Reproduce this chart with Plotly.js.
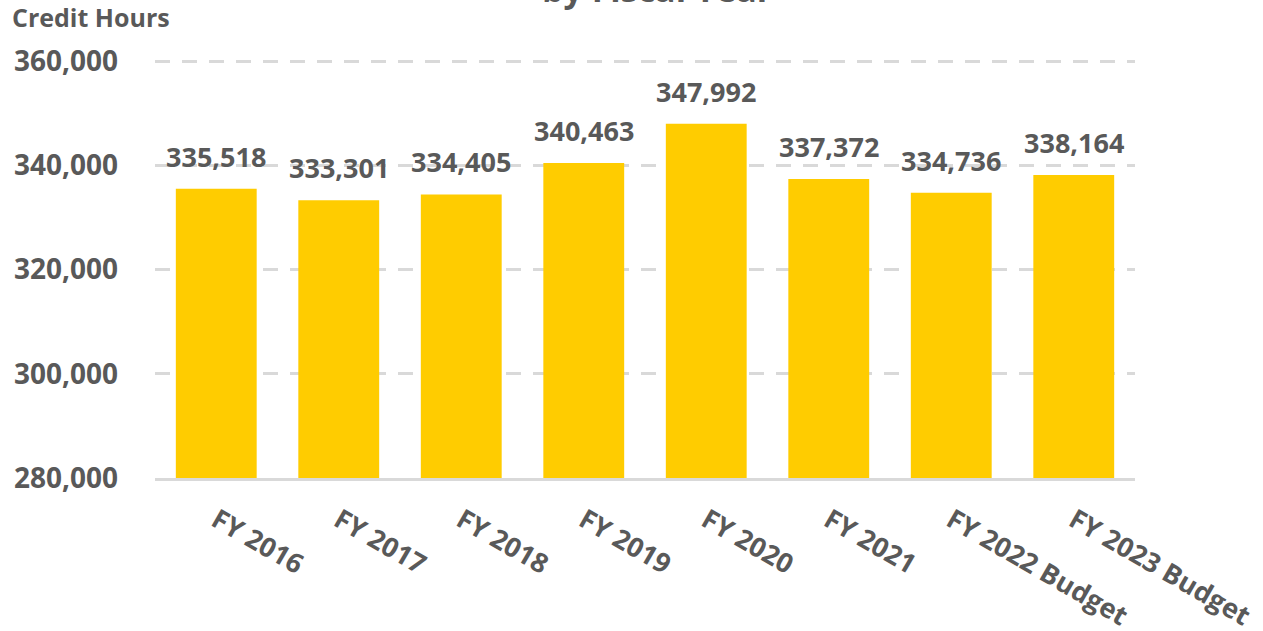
<!DOCTYPE html>
<html>
<head>
<meta charset="utf-8">
<script src="https://cdn.plot.ly/plotly-3.0.1.min.js"></script>
<style>html,body{margin:0;padding:0;background:#fff;}#chart{width:1263px;height:631px;}</style>
</head>
<body>
<div id="chart"></div>
<script>
const categories = ["FY 2016", "FY 2017", "FY 2018", "FY 2019", "FY 2020", "FY 2021", "FY 2022 Budget", "FY 2023 Budget"];
const creditHours = [335518, 333301, 334405, 340463, 347992, 337372, 334736, 338164];
const yTickValues = [280000, 300000, 320000, 340000, 360000];
const yTickLabels = ["280,000", "300,000", "320,000", "340,000", "360,000"];
const chartTitle = "by Fiscal Year";
const yAxisTitle = "Credit Hours";

const FONT = "'Open Sans', sans-serif";
const GREY = "#595959";

const trace = {
  type: "bar",
  x: categories,
  y: creditHours,
  marker: {color: "#FFCC00"},
  hoverinfo: "x+y"
};

const valueLabels = categories.map((c, i) => ({
  text: creditHours[i].toLocaleString("en-US"),
  xref: "x", yref: "y",
  x: c, y: creditHours[i],
  xanchor: "center", yanchor: "bottom",
  yshift: 12,
  showarrow: false,
  font: {family: FONT, size: 27, color: GREY, weight: 700}
}));

const layout = {
  width: 1263,
  height: 631,
  margin: {l: 155, r: 128, t: 59, b: 153},
  paper_bgcolor: "#ffffff",
  plot_bgcolor: "#ffffff",
  showlegend: false,
  bargap: 0.34,
  font: {family: FONT, color: GREY},
  xaxis: {
    type: "category",
    tickangle: 30,
    tickfont: {family: FONT, size: 27, color: GREY, weight: 700},
    showgrid: false,
    showline: true,
    linecolor: "#d9d9d9",
    linewidth: 3,
    ticks: "",
    ticklabelstandoff: 13
  },
  yaxis: {
    range: [280000, 360400],
    tickvals: yTickValues,
    ticktext: yTickLabels,
    tickfont: {family: FONT, size: 28, color: GREY, weight: 700},
    showgrid: true,
    gridcolor: "#d9d9d9",
    gridwidth: 3,
    griddash: "15px,12px",
    zeroline: false,
    showline: false,
    ticks: "",
    ticklabelstandoff: 36
  },
  annotations: valueLabels.concat([
    {
      text: yAxisTitle,
      xref: "paper", yref: "paper",
      x: -155/980, y: 1 + 23/419,
      xanchor: "left", yanchor: "bottom",
      showarrow: false,
      xshift: 10,
      font: {family: FONT, size: 25, color: GREY, weight: 700}
    },
    {
      text: chartTitle,
      xref: "paper", yref: "paper",
      x: 0.5, y: 1 + 45/419,
      xanchor: "center", yanchor: "bottom",
      showarrow: false,
      xshift: 12,
      font: {family: FONT, size: 34, color: GREY, weight: 700}
    }
  ])
};

Plotly.newPlot("chart", [trace], layout, {displayModeBar: false, staticPlot: true});
</script>
</body>
</html>
